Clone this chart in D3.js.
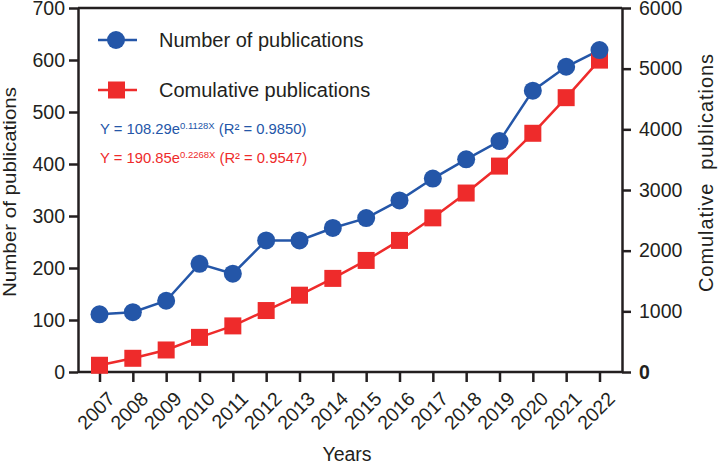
<!DOCTYPE html>
<html>
<head>
<meta charset="utf-8">
<script src="https://cdn.jsdelivr.net/npm/d3@7/dist/d3.min.js"></script>
<style>
  body { margin: 0; background: #fff; }
  text { font-family: "Liberation Sans", Arial, sans-serif; fill: #231f20; }
</style>
</head>
<body>
<div id="chart"></div>
<script>
// data
var years = ["2007","2008","2009","2010","2011","2012","2013","2014","2015","2016","2017","2018","2019","2020","2021","2022"];
var yearly = [111, 115, 137, 208, 189, 253, 253, 277, 296, 330, 372, 409, 444, 541, 587, 619];
var cumulative = [111, 226, 363, 571, 760, 1013, 1266, 1543, 1839, 2169, 2541, 2950, 3394, 3935, 4522, 5141];
var leftTicks = [0, 100, 200, 300, 400, 500, 600, 700];
var rightTicks = [0, 1000, 2000, 3000, 4000, 5000, 6000];

var width = 718, height = 462;
var blue = "#2456a8", red = "#ee2b2b", ink = "#231f20";

var x0 = 78, x1 = 622, yTop = 8, yBot = 372;

var x = d3.scalePoint().domain(years).range([99.5, 599.5]);
var yL = d3.scaleLinear().domain([0, 700]).range([yBot, yTop]);
var yR = d3.scaleLinear().domain([0, 6000]).range([yBot, yTop]);

var svg = d3.select("#chart").append("svg")
    .attr("width", width)
    .attr("height", height);

// top frame line
svg.append("line")
   .attr("x1", x0).attr("x2", x1)
   .attr("y1", yTop).attr("y2", yTop)
   .attr("stroke", ink).attr("stroke-width", 2.5);

function styleAxis(g) {
  g.selectAll(".domain").attr("stroke", ink).attr("stroke-width", 2.5);
  g.selectAll(".tick line").attr("stroke", ink).attr("stroke-width", 2.5);
  g.selectAll(".tick text").attr("font-size", 19.5).style("fill", ink);
}

// left axis
var gl = svg.append("g")
    .attr("transform", "translate(" + x0 + ",0)")
    .call(d3.axisLeft(yL).tickValues(leftTicks).tickSize(9).tickSizeOuter(0).tickPadding(4));
styleAxis(gl);

// right axis
var gr = svg.append("g")
    .attr("transform", "translate(" + x1 + ",0)")
    .call(d3.axisRight(yR).tickValues(rightTicks).tickFormat(d3.format("d"))
          .tickSize(9).tickSizeOuter(0).tickPadding(8));
styleAxis(gr);
gr.selectAll(".tick text").filter(function(d){ return d === 0; }).attr("font-weight", "bold");

// bottom axis
var gb = svg.append("g")
    .attr("transform", "translate(0," + yBot + ")")
    .call(d3.axisBottom(x).tickSize(10).tickSizeOuter(0));
gb.select(".domain").attr("d", "M" + x0 + ",0H" + x1);
styleAxis(gb);
gb.selectAll(".tick text")
  .attr("text-anchor", "end")
  .attr("dy", 0)
  .attr("transform", "translate(7,19) rotate(-45)");

// axis titles
svg.append("text")
   .attr("transform", "translate(16,192) rotate(-90)")
   .attr("text-anchor", "middle")
   .attr("font-size", 19)
   .attr("textLength", 210).attr("lengthAdjust", "spacingAndGlyphs")
   .text("Number of publications");

svg.append("text")
   .attr("transform", "translate(713,173) rotate(-90)")
   .attr("text-anchor", "middle")
   .attr("font-size", 20)
   .attr("textLength", 238).attr("lengthAdjust", "spacing")
   .style("white-space", "pre")
   .text("Comulative  publications");

svg.append("text")
   .attr("x", 347).attr("y", 461)
   .attr("text-anchor", "middle")
   .attr("font-size", 19.5)
   .text("Years");

// lines
var lineL = d3.line().x(function(d, i){ return x(years[i]); }).y(function(d){ return yL(d); });
var lineR = d3.line().x(function(d, i){ return x(years[i]); }).y(function(d){ return yR(d); });

svg.append("path").datum(yearly)
   .attr("d", lineL).attr("fill", "none")
   .attr("stroke", blue).attr("stroke-width", 2.5);

svg.append("path").datum(cumulative)
   .attr("d", lineR).attr("fill", "none")
   .attr("stroke", red).attr("stroke-width", 2.5);

svg.selectAll(".sq").data(cumulative).enter().append("rect")
   .attr("class", "sq")
   .attr("x", function(d, i){ return x(years[i]) - 8.5; })
   .attr("y", function(d){ return yR(d) - 8.5; })
   .attr("width", 17).attr("height", 17)
   .attr("fill", red);

svg.selectAll(".dot").data(yearly).enter().append("circle")
   .attr("class", "dot")
   .attr("cx", function(d, i){ return x(years[i]); })
   .attr("cy", function(d){ return yL(d); })
   .attr("r", 9)
   .attr("fill", blue);

// legend
var lg = svg.append("g");
lg.append("line").attr("x1", 98).attr("x2", 137).attr("y1", 40).attr("y2", 40)
  .attr("stroke", blue).attr("stroke-width", 2.5);
lg.append("circle").attr("cx", 116).attr("cy", 40).attr("r", 9).attr("fill", blue);
lg.append("text").attr("x", 159).attr("y", 47).attr("font-size", 20).text("Number of publications");

lg.append("line").attr("x1", 98).attr("x2", 137).attr("y1", 90).attr("y2", 90)
  .attr("stroke", red).attr("stroke-width", 2.5);
lg.append("rect").attr("x", 108).attr("y", 81.5).attr("width", 17).attr("height", 17).attr("fill", red);
lg.append("text").attr("x", 159).attr("y", 97).attr("font-size", 20).text("Comulative publications");

// fitted equations
function equation(yPos, color, a, b, r2) {
  var t = svg.append("text").attr("x", 100).attr("y", yPos).attr("font-size", 14.8).style("fill", color);
  t.append("tspan").text("Y = " + a + "e");
  t.append("tspan").attr("font-size", 9.5).attr("dy", -5.5).text(b + "X");
  t.append("tspan").attr("dy", 5.5).text(" (R\u00b2 = " + r2 + ")");
}
equation(134, blue, "108.29", "0.1128", "0.9850");
equation(163, red, "190.85", "0.2268", "0.9547");
</script>
</body>
</html>
